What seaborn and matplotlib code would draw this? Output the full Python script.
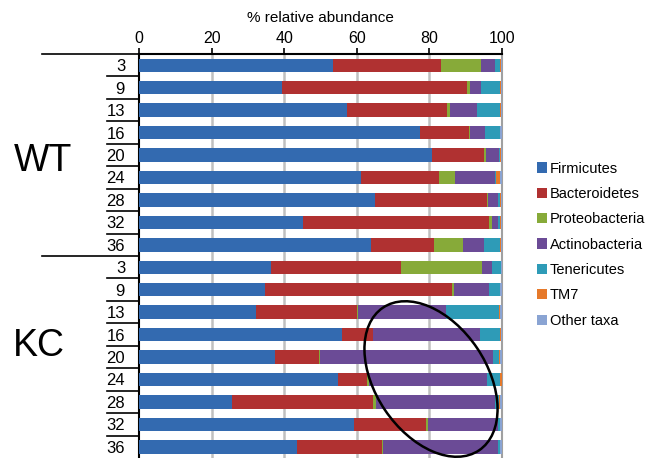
import numpy as np
import pandas as pd
import matplotlib
matplotlib.use("Agg")
import matplotlib.pyplot as plt
import seaborn as sns
from matplotlib.patches import Patch, Ellipse
from matplotlib.transforms import IdentityTransform, blended_transform_factory

# sample days (rows, top to bottom) for each group
groups = ["WT", "KC"]
days = ["3", "9", "13", "16", "20", "24", "28", "32", "36"]

taxa = ["Firmicutes", "Bacteroidetes", "Proteobacteria", "Actinobacteria",
        "Tenericutes", "TM7", "Other taxa"]
colors = ["#336ab0", "#b03131", "#87aa39", "#6b4b96", "#2e9bb7", "#e6792a", "#8aa4d3"]

# % relative abundance per row (WT 3..36, then KC 3..36)
firmicutes = [53.4, 39.5, 57.3, 77.5, 80.8, 61.2, 64.9, 45.1, 63.9,
              36.4, 34.7, 32.3, 56.0, 37.5, 54.9, 25.7, 59.3, 43.6]
bacteroidetes = [29.9, 50.9, 27.5, 13.5, 14.3, 21.5, 31.0, 51.4, 17.5,
                 35.9, 51.6, 27.7, 8.4, 12.2, 8.0, 38.8, 19.9, 23.4]
proteobacteria = [11.0, 0.9, 1.0, 0.3, 0.5, 4.4, 0.3, 0.7, 7.9,
                  22.3, 0.5, 0.4, 0.1, 0.3, 0.4, 0.8, 0.5, 0.3]
actinobacteria = [3.9, 3.0, 7.4, 4.0, 3.6, 11.0, 2.8, 1.8, 5.8,
                  2.7, 9.7, 24.3, 29.4, 47.6, 32.5, 32.9, 19.3, 31.7]
tenericutes = [1.4, 5.3, 6.4, 4.2, 0.4, 0.3, 0.4, 0.4, 4.4,
               2.4, 3.0, 14.5, 5.7, 1.6, 3.6, 0.9, 0.4, 0.4]
tm7 = [0.2, 0.1, 0.1, 0.1, 0.1, 1.2, 0.3, 0.3, 0.2,
       0.1, 0.1, 0.4, 0.1, 0.3, 0.5, 0.4, 0.1, 0.1]

values = [firmicutes, bacteroidetes, proteobacteria, actinobacteria, tenericutes, tm7]
rows = [f"{g} {d}" for g in groups for d in days]

df = pd.DataFrame(dict(zip(taxa[:-1], values)), index=rows)
df["Other taxa"] = 100 - df.sum(axis=1)
cum = df.cumsum(axis=1)
cum["row"] = rows

plt.rcParams["font.family"] = ["Liberation Sans", "DejaVu Sans"]

fig = plt.figure(figsize=(6.54, 4.58), dpi=100)
ax = fig.add_axes([0.2125, 0.0, 0.555, 0.882])

# stacked bars: draw cumulative totals from the outermost layer inwards
for taxon, color in reversed(list(zip(taxa, colors))):
    sns.barplot(data=cum, x=taxon, y="row", order=rows, orient="h", color=color,
                width=0.6, linewidth=0, saturation=1, ax=ax, zorder=3)

ax.set_xlim(0, 100)
ax.set_ylim(17.5, -0.5)
ax.set_xticks([0, 20, 40, 60, 80, 100])
ax.xaxis.tick_top()
ax.xaxis.set_label_position("top")
ax.set_xlabel("% relative abundance", fontsize=11, labelpad=6)
ax.set_ylabel("")
ax.tick_params(axis="x", direction="out", length=4, width=1.2, labelsize=11.5, pad=2)
ax.set_yticks(range(len(rows)))
ax.set_yticklabels([r.split()[1] for r in rows], fontsize=12)
ax.tick_params(axis="y", length=0, pad=10)

for x in [20, 40, 60, 80]:
    ax.axvline(x, color="#c0c0c0", lw=1.8, zorder=1)
ax.spines["top"].set_linewidth(1.5)
ax.spines["left"].set_linewidth(1.5)
ax.spines["right"].set_color("#a0a0a0")
ax.spines["right"].set_linewidth(1.5)
ax.spines["bottom"].set_visible(False)

# multi-level category lines on the left
trans = blended_transform_factory(ax.transAxes, ax.transData)
for i in range(len(rows)):
    y = i - 0.5
    x0 = -0.267 if i % len(days) == 0 else -0.088
    ax.plot([x0, 0], [y, y], transform=trans, color="black", lw=1.2, clip_on=False)

ax.text(-0.344, 4.25, "WT", transform=trans, fontsize=27, ha="left", va="center")
ax.text(-0.347, 12.5, "KC", transform=trans, fontsize=27, ha="left", va="center")

# legend
handles = [Patch(facecolor=c, edgecolor="none") for c in colors]
fig.legend(handles, taxa, loc="upper left", bbox_to_anchor=(0.812, 0.66),
           frameon=False, fontsize=10.5, handlelength=0.7, handleheight=0.7,
           handletextpad=0.2, labelspacing=0.78, borderaxespad=0)

# hand-drawn ellipse highlighting the KC Actinobacteria shift
ell = Ellipse((431, 79), 111, 172, angle=34, transform=IdentityTransform(),
              fill=False, edgecolor="black", lw=1.8)
fig.patches.append(ell)

fig.savefig("out.png", dpi=100)
